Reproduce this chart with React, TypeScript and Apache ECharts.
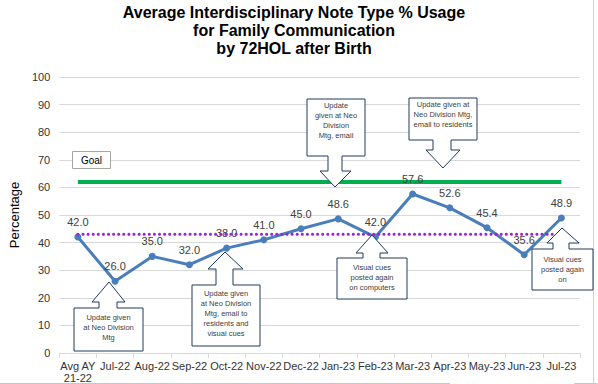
import React, { useEffect, useRef } from "react";
import * as echarts from "echarts";

const categories = ["Avg AY\n21-22", "Jul-22", "Aug-22", "Sep-22", "Oct-22", "Nov-22", "Dec-22", "Jan-23", "Feb-23", "Mar-23", "Apr-23", "May-23", "Jun-23", "Jul-23"];
const usageValues = [42.0, 26.0, 35.0, 32.0, 38.0, 41.0, 45.0, 48.6, 42.0, 57.6, 52.6, 45.4, 35.6, 48.9];
const goalValue = 62;
const baselineValue = 43;
const yTicks = { min: 0, max: 100, interval: 10 };
const titleLines = ["Average Interdisciplinary Note Type % Usage", "for Family Communication", "by 72HOL after Birth"];

type Callout = {
  dir: "up" | "down";
  box: [number, number, number, number];
  neck: [number, number];
  headY: number;
  head: [number, number];
  tip: [number, number];
  lines: string[];
  textTop: number;
};

const callouts: Callout[] = [
  { dir: "up", box: [74, 308, 143, 351], neck: [99, 117], headY: 302, head: [92, 125], tip: [109, 282], lines: ["Update given", "at Neo Division", "Mtg"], textTop: 312 },
  { dir: "up", box: [192, 285, 260, 346], neck: [216, 233], headY: 269, head: [208, 243], tip: [225, 252], lines: ["Update given", "at Neo Division", "Mtg, email to", "residents and", "visual cues"], textTop: 288 },
  { dir: "down", box: [307, 99, 365, 156], neck: [328, 342], headY: 171, head: [320, 351], tip: [335, 187], lines: ["Update", "given at Neo", "Division", "Mtg, email"], textTop: 100 },
  { dir: "down", box: [409, 98, 477, 140], neck: [433, 451], headY: 150, head: [426, 460], tip: [443, 168], lines: ["Update given at", "Neo Division Mtg,", "email to residents"], textTop: 99 },
  { dir: "up", box: [337, 258, 407, 299], neck: [363, 380], headY: 253, head: [356, 388], tip: [372, 235], lines: ["Visual cues", "posted again", "on computers"], textTop: 262 },
  { dir: "up", box: [532, 249, 593, 290], neck: [553, 569], headY: 243, head: [547, 579], tip: [562, 228], lines: ["Visual cues", "posted again", "on"], textTop: 254 },
];

function calloutGraphics(c: Callout): any[] {
  const [x1, y1, x2, y2] = c.box;
  const edge = c.dir === "up" ? y1 : y2;
  const other = c.dir === "up" ? y2 : y1;
  const points = [
    [x1, edge],
    [c.neck[0], edge],
    [c.neck[0], c.headY],
    [c.head[0], c.headY],
    [c.tip[0], c.tip[1]],
    [c.head[1], c.headY],
    [c.neck[1], c.headY],
    [c.neck[1], edge],
    [x2, edge],
    [x2, other],
    [x1, other],
  ];
  return [
    {
      type: "polygon",
      z: 100,
      shape: { points },
      style: { fill: "#ffffff", stroke: "#1f3a5f", lineWidth: 1 },
    },
    {
      type: "text",
      z: 101,
      x: (x1 + x2) / 2,
      y: c.textTop,
      style: {
        text: c.lines.join("\n"),
        align: "center",
        verticalAlign: "top",
        fill: "#404040",
        fontSize: 7.5,
        lineHeight: 10,
        fontFamily: "Liberation Sans, Arial, sans-serif",
      },
    },
  ];
}

export default function App() {
  const ref = useRef<HTMLDivElement>(null);
  useEffect(() => {
    document.body.style.margin = "0";
    if (!ref.current) return;
    const chart = echarts.init(ref.current, null, { renderer: "svg" });
    const font = "Liberation Sans, Arial, sans-serif";
    const graphics: any[] = [];
    callouts.forEach((c) => graphics.push(...calloutGraphics(c)));
    graphics.push(
      {
        type: "rect",
        z: 100,
        shape: { x: 72.5, y: 151.5, width: 38, height: 17 },
        style: { fill: "#ffffff", stroke: "#a6a6a6", lineWidth: 1 },
      },
      {
        type: "text",
        z: 101,
        x: 91.5,
        y: 160,
        style: { text: "Goal", align: "center", verticalAlign: "middle", fill: "#000000", fontSize: 10, fontFamily: font },
      },
      {
        type: "line",
        shape: { x1: 593.5, y1: 0, x2: 593.5, y2: 384 },
        style: { stroke: "#d0d0d0", lineWidth: 1 },
      },
      {
        type: "line",
        shape: { x1: 0, y1: 383.5, x2: 450, y2: 383.5 },
        style: { stroke: "#c8c8c8", lineWidth: 1 },
      },
      {
        type: "line",
        shape: { x1: 574, y1: 383.5, x2: 598, y2: 383.5 },
        style: { stroke: "#c8c8c8", lineWidth: 1 },
      }
    );
    chart.setOption({
      animation: false,
      backgroundColor: "#ffffff",
      title: {
        text: titleLines.join("\n"),
        left: 294,
        top: 3,
        padding: 0,
        textAlign: "center",
        textStyle: { fontSize: 16, fontWeight: "bold", lineHeight: 18, color: "#000000", fontFamily: font },
      },
      grid: { left: 52, right: 18, top: 77, bottom: 31, containLabel: false },
      xAxis: {
        type: "category",
        data: categories,
        boundaryGap: true,
        axisLine: { lineStyle: { color: "#d9d9d9" } },
        axisTick: { show: true, length: 5, lineStyle: { color: "#d9d9d9" } },
        axisLabel: { interval: 0, fontSize: 11, color: "#333333", margin: 7, fontFamily: font, lineHeight: 12 },
        splitLine: { show: false },
      },
      yAxis: {
        type: "value",
        min: yTicks.min,
        max: yTicks.max,
        interval: yTicks.interval,
        name: "Percentage",
        nameLocation: "middle",
        nameGap: 35,
        nameTextStyle: { fontSize: 13, color: "#000000", fontFamily: font },
        axisLine: { show: false },
        axisTick: { show: false },
        axisLabel: { fontSize: 11, color: "#333333", margin: 9, fontFamily: font },
        splitLine: { lineStyle: { color: "#d9d9d9" } },
      },
      series: [
        {
          name: "Goal",
          type: "line",
          data: categories.map(() => goalValue),
          symbol: "none",
          lineStyle: { color: "#00b050", width: 4 },
          z: 2,
        },
        {
          name: "Usage",
          type: "line",
          data: usageValues,
          symbol: "circle",
          symbolSize: 7,
          itemStyle: { color: "#4a7ebb" },
          lineStyle: { color: "#4a7ebb", width: 3 },
          label: {
            show: true,
            position: "top",
            distance: 6,
            formatter: (p: any) => Number(p.value).toFixed(1),
            fontSize: 11,
            color: "#404040",
            fontFamily: font,
          },
          z: 3,
        },
        {
          name: "Baseline",
          type: "line",
          data: categories.map(() => baselineValue),
          symbol: "none",
          lineStyle: { color: "#9b1fd6", width: 3, type: [0.1, 5], cap: "round" },
          z: 4,
        },
      ],
      graphic: graphics,
    });
    return () => chart.dispose();
  }, []);
  return <div ref={ref} style={{ width: 598, height: 384 }} />;
}
